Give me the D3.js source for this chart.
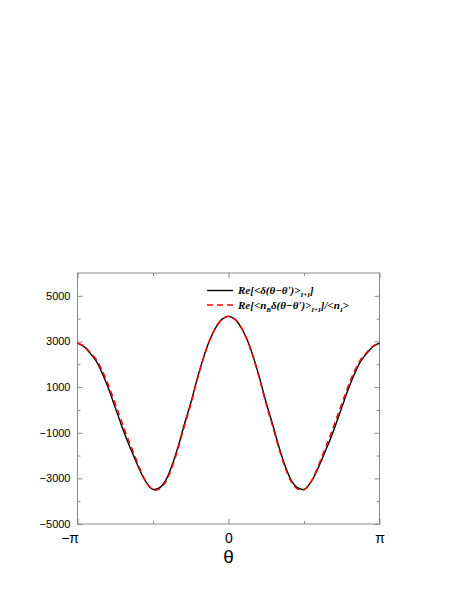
<!DOCTYPE html>
<html>
<head>
<meta charset="utf-8">
<script src="https://cdn.jsdelivr.net/npm/d3@7"></script>
<style>
html,body{margin:0;padding:0;background:#fff;}
svg{display:block;}
</style>
</head>
<body>
<svg id="chart" width="458" height="592"></svg>
<script>
// ---- data ----
const thetaSteps = d3.range(-24, 25); // theta = k*pi/24
const blackValues = [2930, 2780, 2490, 2130, 1560, 880, 100, -680, -1410, -2060, -2700, -3200, -3480, -3420, -3100, -2450, -1600, -615, 300, 1340, 2270, 3050, 3620, 3980, 4100, 3980, 3620, 3050, 2270, 1340, 300, -615, -1600, -2450, -3100, -3420, -3480, -3200, -2700, -2060, -1410, -680, 100, 880, 1560, 2130, 2490, 2780, 2930];
const redValues = [2940, 2800, 2530, 2200, 1680, 1020, 270, -500, -1250, -1930, -2640, -3200, -3500, -3470, -3160, -2530, -1680, -700, 230, 1290, 2240, 3040, 3620, 3980, 4100, 3980, 3620, 3040, 2240, 1290, 230, -700, -1680, -2530, -3160, -3470, -3500, -3200, -2640, -1930, -1250, -500, 270, 1020, 1680, 2200, 2530, 2800, 2940];
const yTickLabels = [-5000, -3000, -1000, 1000, 3000, 5000];
const yMinorTicks = [-4000, -2000, 0, 2000, 4000];
const xTickValues = [-Math.PI, 0, Math.PI];
const xTickLabels = ["\u2212\u03c0", "0", "\u03c0"];
const xMinorTicks = [-Math.PI / 2, Math.PI / 2];

// ---- layout ----
const svg = d3.select("#chart");
const L = 77.5, R = 379.5, T = 273, B = 524;
const x = d3.scaleLinear().domain([-Math.PI, Math.PI]).range([L, R]);
const y = d3.scaleLinear().domain([-5000, 6000]).range([B, T]);

const black = thetaSteps.map((k, i) => ({t: k * Math.PI / 24, v: blackValues[i]}));
const red = thetaSteps.map((k, i) => ({t: k * Math.PI / 24, v: redValues[i]}));

const frameColor = "#8a8a8a";

// ticks
function ticks(axisGen, tr, size, vals) {
  const g = svg.append("g").attr("transform", tr)
    .call(axisGen.tickValues(vals).tickSize(size).tickFormat(""));
  g.select(".domain").remove();
  g.selectAll(".tick line").attr("stroke", frameColor);
  return g;
}
// left (inside)
ticks(d3.axisRight(y), `translate(${L},0)`, 5, yTickLabels);
ticks(d3.axisRight(y), `translate(${L},0)`, 3, yMinorTicks);
// right (inside)
ticks(d3.axisLeft(y), `translate(${R},0)`, 5, yTickLabels);
ticks(d3.axisLeft(y), `translate(${R},0)`, 3, yMinorTicks);
// bottom (inside)
ticks(d3.axisTop(x), `translate(0,${B})`, 5, xTickValues);
ticks(d3.axisTop(x), `translate(0,${B})`, 3, xMinorTicks);
// top (inside)
ticks(d3.axisBottom(x), `translate(0,${T})`, 5, xTickValues);
ticks(d3.axisBottom(x), `translate(0,${T})`, 3, xMinorTicks);

// frame
svg.append("rect").attr("x", L).attr("y", T).attr("width", R - L).attr("height", B - T)
  .attr("fill", "none").attr("stroke", frameColor).attr("stroke-width", 1);

// y labels
const yl = svg.append("g").attr("transform", `translate(${L},0)`)
  .call(d3.axisLeft(y).tickValues(yTickLabels).tickSize(0).tickPadding(7)
    .tickFormat(d => d3.format("d")(d).replace("-", "\u2212")));
yl.select(".domain").remove();
yl.selectAll("text").attr("font-family", "Liberation Sans, Arial, sans-serif")
  .attr("font-size", 11).attr("fill", "#000");

// x labels
const xl = svg.append("g").attr("transform", `translate(0,${B})`)
  .call(d3.axisBottom(x).tickValues(xTickValues).tickSize(0).tickPadding(9)
    .tickFormat((d, i) => xTickLabels[i]));
xl.select(".domain").remove();
xl.selectAll("text").attr("font-family", "Liberation Sans, Arial, sans-serif")
  .attr("font-size", 14).attr("fill", "#000");
xl.selectAll("text").filter((d, i) => i === 0).attr("text-anchor", "end").attr("dx", "1");

// axis title
svg.append("text").attr("x", x(0)).attr("y", 563).attr("text-anchor", "middle")
  .attr("font-family", "Liberation Sans, Arial, sans-serif").attr("font-size", 19).text("\u03b8");

// curves
const line = d3.line().x(d => x(d.t)).y(d => y(d.v)).curve(d3.curveCatmullRom.alpha(0.5));
svg.append("path").datum(black).attr("d", line).attr("fill", "none")
  .attr("stroke", "#000").attr("stroke-width", 1.4);
svg.append("path").datum(red).attr("d", line).attr("fill", "none")
  .attr("stroke", "#ff0000").attr("stroke-width", 1.5).attr("stroke-dasharray", "6,4");

// legend
const lg = svg.append("g");
lg.append("line").attr("x1", 207).attr("x2", 233).attr("y1", 290.5).attr("y2", 290.5)
  .attr("stroke", "#000").attr("stroke-width", 1.4);
lg.append("line").attr("x1", 207).attr("x2", 233).attr("y1", 305).attr("y2", 305)
  .attr("stroke", "#ff0000").attr("stroke-width", 1.5).attr("stroke-dasharray", "6,4");
const fontL = "Liberation Serif, Times New Roman, serif";
const t1 = lg.append("text").attr("x", 238).attr("y", 294).attr("font-family", fontL)
  .attr("font-size", 11).attr("font-weight", "bold").attr("font-style", "italic");
t1.append("tspan").text("Re[<\u03b4(\u03b8\u2212\u03b8')>");
t1.append("tspan").attr("font-size", 7).attr("dy", 3).text("I+I");
t1.append("tspan").attr("dy", -3).text("]");
const t2 = lg.append("text").attr("x", 238).attr("y", 308.5).attr("font-family", fontL)
  .attr("font-size", 11).attr("font-weight", "bold").attr("font-style", "italic");
t2.append("tspan").text("Re[<n");
t2.append("tspan").attr("font-size", 7).attr("dy", 3).text("B");
t2.append("tspan").attr("dy", -3).text("\u03b4(\u03b8\u2212\u03b8')>");
t2.append("tspan").attr("font-size", 7).attr("dy", 3).text("I+I");
t2.append("tspan").attr("dy", -3).text("]/<n");
t2.append("tspan").attr("font-size", 7).attr("dy", 3).text("I");
t2.append("tspan").attr("dy", -3).text(">");
</script>
</body>
</html>
